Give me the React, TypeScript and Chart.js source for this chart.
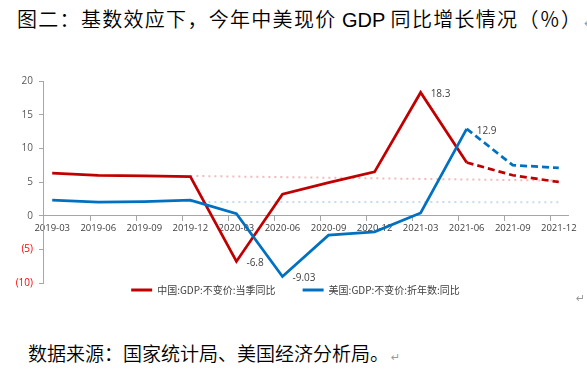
import React, { useEffect, useRef } from "react";
import { Chart, registerables } from "chart.js";

Chart.register(...registerables);

// ---- data ----
const categories = [
  "2019-03", "2019-06", "2019-09", "2019-12",
  "2020-03", "2020-06", "2020-09", "2020-12",
  "2021-03", "2021-06", "2021-09", "2021-12",
];
const chinaGdp = [6.3, 6.0, 5.9, 5.8, -6.8, 3.2, 4.9, 6.5, 18.3, 7.9, 6.0, 5.0];
const usGdp = [2.3, 2.0, 2.1, 2.3, 0.3, -9.03, -2.9, -2.4, 0.4, 12.9, 7.5, 7.1];
const chinaTrend = [null, null, null, 5.9, null, null, null, null, null, null, null, 5.2];
const usTrend = [null, null, null, 2.05, null, null, null, null, null, null, null, 2.0];
const forecastStart = 9;
const chinaLabelIdx = [4, 8];
const usLabelIdx = [5, 9];
const yTickValues = [-10, -5, 0, 5, 10, 15, 20];
const seriesNames = ["中国:GDP:不变价:当季同比", "美国:GDP:不变价:折年数:同比"];

const titleText = "图二：基数效应下，今年中美现价 GDP 同比增长情况（％）";
const sourceText = "数据来源：国家统计局、美国经济分析局。";

const RED = "#C00000";
const BLUE = "#0070C0";
const AXIS = "#A6A6A6";
const TXT = "#404040";
const FONT = "'Open Sans', 'Noto Sans CJK SC', sans-serif";

const toPoints = (arr: (number | null)[]) => arr.map((v, i) => ({ x: i, y: v }));

const valueLabels = {
  id: "valueLabels",
  afterDatasetsDraw(chart: any) {
    const ctx = chart.ctx;
    ctx.save();
    ctx.font = `10px ${FONT}`;
    ctx.fillStyle = TXT;
    ctx.textAlign = "left";
    ctx.textBaseline = "middle";
    const sets: [number, number[]][] = [[0, chinaLabelIdx], [1, usLabelIdx]];
    sets.forEach(([di, idxs]) => {
      const meta = chart.getDatasetMeta(di);
      idxs.forEach((i) => {
        const el = meta.data[i];
        const v = chart.data.datasets[di].data[i].y;
        ctx.fillText(String(v), el.x + 10, el.y + 2);
      });
    });
    ctx.restore();
  },
};

function GdpChart() {
  const ref = useRef<HTMLCanvasElement | null>(null);
  useEffect(() => {
    if (!ref.current) return;
    const dashSeg = (ctx: any) => (ctx.p0DataIndex >= forecastStart ? [7, 4] : undefined);
    const chart = new Chart(ref.current, {
      type: "line",
      data: {
        datasets: [
          {
            label: seriesNames[0],
            data: toPoints(chinaGdp),
            borderColor: RED,
            backgroundColor: RED,
            borderWidth: 2.75,
            pointRadius: 0,
            tension: 0,
            order: 2,
            segment: { borderDash: dashSeg },
          },
          {
            label: seriesNames[1],
            data: toPoints(usGdp),
            borderColor: BLUE,
            backgroundColor: BLUE,
            borderWidth: 2.75,
            pointRadius: 0,
            tension: 0,
            order: 1,
            segment: { borderDash: dashSeg },
          },
          {
            label: "china-trend",
            data: toPoints(chinaTrend),
            borderColor: "#F4BABA",
            borderWidth: 2,
            borderDash: [2, 4],
            pointRadius: 0,
            spanGaps: true,
            order: 3,
          },
          {
            label: "us-trend",
            data: toPoints(usTrend),
            borderColor: "#C5DCF0",
            borderWidth: 2,
            borderDash: [2, 4],
            pointRadius: 0,
            spanGaps: true,
            order: 3,
          },
        ],
      } as any,
      options: {
        responsive: false,
        animation: false,
        events: [],
        layout: { padding: { top: 26, right: 19, bottom: 10, left: 0 } },
        scales: {
          x: {
            type: "linear",
            position: { y: 0 } as any,
            min: -0.2,
            max: 11.2,
            afterBuildTicks: (s: any) => {
              s.ticks = categories.map((_, i) => ({ value: i }));
            },
            ticks: {
              autoSkip: false,
              maxRotation: 0,
              padding: 7,
              color: TXT,
              font: { size: 9.5, family: FONT },
              callback: (v: any) => categories[Math.round(v)] ?? "",
            },
            grid: { display: true, drawOnChartArea: false, drawTicks: false },
            border: { display: true, color: AXIS, width: 1 },
          },
          xt: {
            type: "linear",
            axis: "x",
            position: { y: 0 } as any,
            min: -0.2,
            max: 11.2,
            afterBuildTicks: (s: any) => {
              s.ticks = categories.slice(1).map((_, i) => ({ value: i + 1 - 0.17 }));
            },
            ticks: { display: false },
            grid: { display: true, drawOnChartArea: false, drawTicks: true, tickLength: 5, color: AXIS },
            border: { display: false },
          },
          y: {
            min: -10,
            max: 20,
            afterBuildTicks: (s: any) => {
              s.ticks = yTickValues.map((v) => ({ value: v }));
            },
            afterFit: (s: any) => {
              s.width = 43;
            },
            ticks: {
              padding: 6,
              font: { size: 10, family: FONT },
              color: (c: any) => (c.tick && c.tick.value < 0 ? "#FF0000" : "#595959"),
              callback: (v: any) => (v < 0 ? `(${-v})` : `${v}`),
            },
            grid: { display: true, drawOnChartArea: false, drawTicks: true, tickLength: 4, color: AXIS },
            border: { display: true, color: AXIS, width: 1 },
          },
        } as any,
        plugins: {
          tooltip: { enabled: false },
          legend: {
            display: true,
            position: "bottom",
            fullSize: false,
            labels: {
              boxWidth: 21,
              boxHeight: 3,
              padding: 2,
              color: TXT,
              font: { size: 10, family: "'Noto Sans CJK SC', sans-serif" },
              generateLabels: (chart: any) => {
                const base = (Chart.defaults.plugins.legend.labels as any).generateLabels(chart);
                return base
                  .filter((it: any) => it.datasetIndex < 2)
                  .sort((a: any, b: any) => a.datasetIndex - b.datasetIndex)
                  .map((it: any) => ({
                    ...it,
                    text: it.datasetIndex === 0 ? it.text + "\u2003\u2003\u2002" : it.text + "\u2003\u2003",
                    fillStyle: it.strokeStyle,
                    lineWidth: 0,
                    lineDash: [],
                  }));
              },
            },
          },
        },
      } as any,
      plugins: [valueLabels],
    });
    return () => chart.destroy();
  }, []);
  return <canvas ref={ref} width={587} height={260} style={{ display: "block" }} />;
}

export default function App() {
  const mark: React.CSSProperties = {
    position: "absolute",
    color: "#9A9A9A",
    fontSize: 11,
    fontWeight: 400,
    letterSpacing: 0,
    fontFamily: "'DejaVu Sans', sans-serif",
  };
  return (
    <div
      style={{
        position: "absolute",
        left: 0,
        top: 0,
        width: 587,
        height: 382,
        background: "#fff",
        overflow: "hidden",
      }}
    >
      <div
        style={{
          position: "absolute",
          left: 17,
          top: 7,
          fontSize: 20,
          fontWeight: 350,
          letterSpacing: "1.3px",
          lineHeight: "23px",
          whiteSpace: "nowrap",
          color: "#000",
          fontFamily: "'Noto Sans CJK SC', sans-serif",
        }}
      >
        {titleText.split(" GDP ")[0]}
        <span style={{ fontFamily: "'Liberation Sans', sans-serif", fontWeight: 400, letterSpacing: 0 }}> GDP </span>
        {titleText.split(" GDP ")[1]}
        <span style={{ ...mark, position: "relative", marginLeft: 2 }}>↵</span>
      </div>
      <div style={{ position: "absolute", left: 0, top: 55, width: 587, height: 260 }}>
        <GdpChart />
      </div>
      <span style={{ ...mark, left: 576, top: 292 }}>↵</span>
      <div
        style={{
          position: "absolute",
          left: 28,
          top: 341,
          fontSize: 19,
          fontWeight: 350,
          lineHeight: "23px",
          whiteSpace: "nowrap",
          color: "#000",
          fontFamily: "'Noto Sans CJK SC', sans-serif",
        }}
      >
        {sourceText}
        <span style={{ ...mark, position: "relative", marginLeft: 2 }}>↵</span>
      </div>
    </div>
  );
}
